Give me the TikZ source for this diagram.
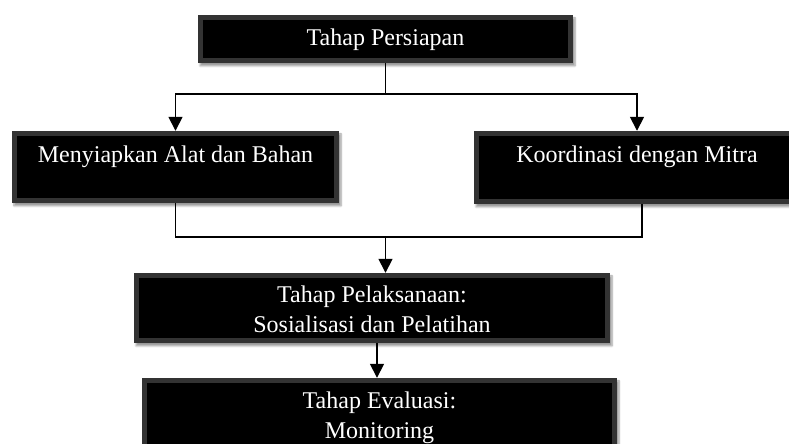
\documentclass[tikz,border=0pt]{standalone}
\usepackage{fontspec}
\setmainfont{Liberation Serif}
\usetikzlibrary{arrows.meta,shadows.blur}
\colorlet{bevelgray}{gray!40!black}
\tikzset{
  box/.style={rectangle, draw=none, fill=bevelgray, inner sep=0pt,
    blur shadow={shadow xshift=2bp, shadow yshift=-3bp, shadow blur steps=6, shadow opacity=40},
    path picture={\fill[black] ([shift={(5,-5)}]path picture bounding box.north west) rectangle ([shift={(-5,5)}]path picture bounding box.south east);}},
  txt/.style={text=white, align=center, inner sep=0pt, font=\fontsize{24bp}{30bp}\selectfont},
  conn/.style={line width=1.6bp, draw=black},
  arr/.style={conn, -{Triangle[width=14bp,length=14bp]}}
}
\begin{document}
\begin{tikzpicture}[x=1bp,y=1bp]
\useasboundingbox (0,0) rectangle (789,444);
% boxes
\node[box, minimum width=375bp, minimum height=48bp] (b1) at (385.5,405) {};
\node[box, minimum width=327bp, minimum height=72bp] (b2) at (175.5,277) {};
\node[box, minimum width=326bp, minimum height=73bp] (b3) at (637,276.5) {};
\node[box, minimum width=476bp, minimum height=70bp] (b4) at (372,136) {};
\node[box, minimum width=475bp, minimum height=80bp] (b5) at (379.5,26) {};
% texts
\node[txt] (t1) at (385.5,404) {Tahap Persiapan};
\node[txt] (t2) at (175.5,287) {Menyiapkan Alat dan Bahan};
\node[txt] (t3) at (637,287) {Koordinasi dengan Mitra};
\node[txt] (t4) at (372,135) {Tahap Pelaksanaan:\\Sosialisasi dan Pelatihan};
\node[txt] (t5) at (379.5,26) {Tahap Evaluasi:\\Monitoring};
% connectors
\coordinate (s1) at (385.5,350);
\coordinate (s2) at (175.5,207);
\coordinate (s3) at (385.5,207);
\coordinate (s4) at (377,101);
\draw[conn] (b1.south) -- (s1);
\draw[arr] (s1) -| (b2.north);
\draw[arr] (s1) -| (b3.north);
\draw[conn] (b2.south) |- (s2) -| ([xshift=5bp]b3.south);
\draw[arr] (s3) -- (s3 |- b4.north);
\draw[arr] (s4) -- (s4 |- b5.north);
\end{tikzpicture}
\end{document}
